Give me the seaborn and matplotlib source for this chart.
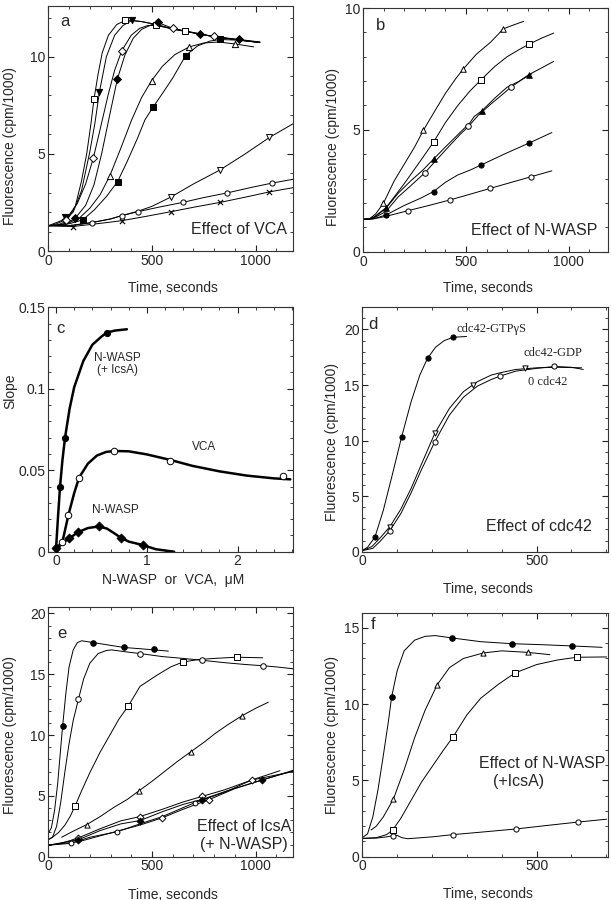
import matplotlib
matplotlib.use("Agg")
import matplotlib.pyplot as plt
import seaborn as sns
from matplotlib.ticker import MultipleLocator, FuncFormatter

# ---------------- panel a : effect of VCA ----------------
a_sq_t = [0, 40, 70, 100, 130, 160, 185, 205, 220, 240, 260, 290, 330, 370, 400, 450, 520, 600, 700, 800, 900, 1020]
a_sq_f = [1.3, 1.32, 1.45, 1.75, 2.3, 3.6, 5.0, 6.5, 7.8, 9.1, 10.2, 11.1, 11.65, 11.85, 11.87, 11.8, 11.65, 11.42, 11.22, 11.02, 10.88, 10.72]
a_ftri_t = [0, 40, 80, 120, 160, 200, 225, 246, 280, 320, 360, 402, 450, 520, 600, 700, 800, 900, 1020]
a_ftri_f = [1.3, 1.4, 1.6, 2.0, 3.1, 5.1, 6.6, 8.16, 10.0, 11.1, 11.6, 11.85, 11.8, 11.65, 11.42, 11.22, 11.02, 10.88, 10.72]
a_dia_t = [0, 60, 100, 140, 180, 217, 250, 290, 320, 354, 400, 440, 480, 520, 600, 700, 800, 900, 1020]
a_dia_f = [1.3, 1.55, 1.85, 2.45, 3.45, 4.78, 6.27, 8.1, 9.3, 10.3, 11.1, 11.45, 11.6, 11.6, 11.42, 11.22, 11.02, 10.88, 10.72]
a_fdia_t = [0, 60, 100, 129, 180, 220, 257, 300, 333, 370, 410, 450, 500, 530, 600, 731, 800, 921, 1020]
a_fdia_f = [1.3, 1.35, 1.5, 1.68, 2.35, 3.4, 5.0, 7.2, 8.85, 10.1, 10.95, 11.4, 11.65, 11.75, 11.45, 11.17, 11.03, 10.88, 10.75]
a_tri_t = [0, 80, 150, 200, 250, 297, 350, 402, 450, 498, 550, 610, 680, 750, 820, 900, 990]
a_tri_f = [1.3, 1.35, 1.7, 2.2, 2.9, 3.88, 5.3, 6.75, 7.9, 8.76, 9.5, 10.1, 10.5, 10.7, 10.75, 10.65, 10.5]
a_fsq_t = [0, 100, 166, 220, 280, 334, 380, 430, 466, 505, 550, 600, 662, 720, 780, 828, 900, 960, 1020]
a_fsq_f = [1.3, 1.4, 1.6, 2.1, 2.8, 3.57, 4.6, 5.8, 6.75, 7.4, 8.1, 8.9, 10.05, 10.55, 10.8, 10.88, 10.85, 10.8, 10.75]
a_dtri_t = [0, 100, 200, 300, 354, 434, 500, 590, 700, 828, 950, 1066, 1181]
a_dtri_f = [1.3, 1.3, 1.45, 1.65, 1.82, 2.05, 2.3, 2.77, 3.45, 4.17, 5.0, 5.84, 6.55]
a_cir_t = [0, 100, 212, 300, 354, 434, 540, 648, 750, 863, 970, 1077, 1181]
a_cir_f = [1.3, 1.3, 1.46, 1.65, 1.82, 2.03, 2.27, 2.5, 2.75, 2.99, 3.25, 3.49, 3.69]
a_x_t = [0, 60, 117, 200, 280, 354, 470, 590, 710, 828, 950, 1066, 1181]
a_x_f = [1.3, 1.28, 1.26, 1.36, 1.46, 1.56, 1.78, 2.02, 2.27, 2.5, 2.77, 3.04, 3.26]

a_sq_mt, a_sq_mf = [220, 370, 520, 660], [7.8, 11.87, 11.65, 11.3]
a_ftri_mt, a_ftri_mf = [80, 246, 402], [1.73, 8.16, 11.87]
a_dia_mt, a_dia_mf = [85, 217, 354, 600, 800], [1.6, 4.78, 10.3, 11.45, 11.05]
a_fdia_mt, a_fdia_mf = [129, 333, 530, 731, 921], [1.68, 8.85, 11.78, 11.17, 10.88]
a_tri_mt, a_tri_mf = [297, 498, 680, 900], [3.88, 8.76, 10.5, 10.65]
a_fsq_mt, a_fsq_mf = [166, 334, 505, 662, 828], [1.6, 3.57, 7.4, 10.05, 10.88]
a_dtri_mt, a_dtri_mf = [590, 828, 1066], [2.77, 4.17, 5.84]
a_cir_mt, a_cir_mf = [212, 354, 434, 648, 863, 1077], [1.46, 1.82, 2.03, 2.5, 2.99, 3.49]
a_x_mt, a_x_mf = [117, 354, 590, 828, 1066], [1.26, 1.56, 2.02, 2.5, 3.04]

# ---------------- panel b : effect of N-WASP ----------------
b_tri_t = [0, 30, 60, 98, 150, 200, 250, 293, 350, 400, 450, 485, 550, 620, 660, 680, 730, 780]
b_tri_f = [1.33, 1.35, 1.55, 1.99, 2.9, 3.6, 4.3, 4.99, 5.8, 6.5, 7.1, 7.48, 8.1, 8.6, 8.95, 9.14, 9.3, 9.45]
b_sq_t = [0, 40, 110, 200, 280, 342, 400, 460, 520, 574, 640, 700, 760, 808, 870, 927]
b_sq_f = [1.33, 1.35, 1.8, 2.8, 3.75, 4.5, 5.3, 6.0, 6.6, 7.06, 7.6, 8.0, 8.3, 8.52, 8.77, 8.97]
b_ftri_t = [0, 30, 60, 110, 170, 230, 290, 342, 400, 460, 520, 540, 577, 640, 700, 760, 805, 870, 927]
b_ftri_f = [1.33, 1.35, 1.45, 1.78, 2.4, 2.9, 3.35, 3.8, 4.3, 4.8, 5.3, 5.55, 5.78, 6.3, 6.75, 7.0, 7.26, 7.55, 7.81]
b_oc_t = [0, 30, 60, 110, 170, 230, 301, 360, 420, 470, 512, 560, 620, 670, 720, 770, 820]
b_oc_f = [1.33, 1.35, 1.42, 1.65, 2.25, 2.7, 3.25, 3.8, 4.35, 4.8, 5.14, 5.6, 6.05, 6.4, 6.76, 7.05, 7.3]
b_fc_t = [0, 50, 111, 200, 280, 342, 400, 460, 520, 574, 690, 805, 918]
b_fc_f = [1.33, 1.35, 1.51, 1.9, 2.2, 2.47, 2.85, 3.15, 3.35, 3.56, 4.02, 4.45, 4.89]
b_c_t = [0, 50, 110, 220, 320, 420, 520, 618, 718, 818, 918]
b_c_f = [1.33, 1.35, 1.45, 1.69, 1.9, 2.12, 2.36, 2.6, 2.84, 3.08, 3.32]

b_tri_mt, b_tri_mf = [98, 293, 485, 680], [1.99, 4.99, 7.48, 9.14]
b_sq_mt, b_sq_mf = [342, 574, 808], [4.5, 7.06, 8.52]
b_ftri_mt, b_ftri_mf = [110, 342, 577, 805], [1.78, 3.8, 5.78, 7.26]
b_oc_mt, b_oc_mf = [301, 512, 720], [3.25, 5.14, 6.76]
b_fc_mt, b_fc_mf = [111, 342, 574, 805], [1.51, 2.47, 3.56, 4.45]
b_c_mt, b_c_mf = [220, 420, 618, 818], [1.69, 2.12, 2.6, 3.08]

# ---------------- panel c : slope vs concentration ----------------
c_icsa_x = [0, 0.02, 0.044, 0.07, 0.099, 0.15, 0.2, 0.3, 0.4, 0.5, 0.56, 0.65, 0.78]
c_icsa_y = [0.002, 0.02, 0.040, 0.056, 0.070, 0.088, 0.101, 0.117, 0.127, 0.132, 0.1345, 0.1357, 0.1365]
c_vca_x = [0, 0.07, 0.136, 0.2, 0.253, 0.35, 0.45, 0.55, 0.64, 0.8, 1.0, 1.26, 1.5, 1.8, 2.1, 2.4, 2.58]
c_vca_y = [0.002, 0.006, 0.0225, 0.036, 0.0454, 0.054, 0.059, 0.0612, 0.0618, 0.0616, 0.0597, 0.0563, 0.0527, 0.0493, 0.0467, 0.0450, 0.0444]
c_nw_x = [0, 0.05, 0.1, 0.147, 0.239, 0.35, 0.47, 0.56, 0.65, 0.712, 0.8, 0.954, 1.1, 1.3]
c_nw_y = [0.002, 0.004, 0.0065, 0.0082, 0.0119, 0.0145, 0.0155, 0.0142, 0.011, 0.0086, 0.0062, 0.0041, 0.0015, 0.0]

c_icsa_mx, c_icsa_my = [0, 0.044, 0.099, 0.56], [0.002, 0.040, 0.070, 0.1345]
c_vca_mx, c_vca_my = [0.07, 0.136, 0.253, 0.64, 1.26, 2.495], [0.006, 0.0225, 0.0454, 0.0618, 0.0557, 0.0465]
c_nw_mx, c_nw_my = [0, 0.147, 0.239, 0.47, 0.712, 0.954], [0.002, 0.0082, 0.0119, 0.0155, 0.0086, 0.0041]

# ---------------- panel d : effect of cdc42 ----------------
d_gtp_t = [0, 15, 36, 60, 85, 113, 140, 165, 187, 210, 235, 261, 299]
d_gtp_f = [0.1, 0.4, 1.3, 3.7, 6.8, 10.36, 13.5, 15.9, 17.4, 18.4, 19.0, 19.3, 19.37]
d_gdp_t = [0, 27, 50, 79, 110, 140, 170, 208, 250, 290, 330, 370, 395, 440, 500, 560, 629]
d_gdp_f = [0.1, 0.45, 1.2, 2.25, 3.8, 5.7, 7.9, 10.66, 12.9, 14.4, 15.3, 15.9, 16.1, 16.4, 16.55, 16.6, 16.55]
d_zero_t = [0, 30, 50, 79, 110, 140, 170, 208, 250, 290, 330, 370, 395, 440, 500, 551, 600, 634]
d_zero_f = [0.1, 0.3, 0.9, 1.9, 3.4, 5.3, 7.4, 9.9, 12.3, 13.9, 14.9, 15.5, 15.8, 16.25, 16.5, 16.67, 16.6, 16.4]

d_gtp_mt, d_gtp_mf = [36, 113, 187, 261], [1.3, 10.36, 17.4, 19.3]
d_gdp_mt, d_gdp_mf = [79, 208, 318, 467], [2.25, 10.66, 15.0, 16.5]
d_zero_mt, d_zero_mf = [79, 208, 395, 551], [1.9, 9.9, 15.8, 16.67]

# ---------------- panel e : effect of IcsA ----------------
e_fc_t = [0, 15, 30, 45, 55, 69, 85, 100, 120, 140, 161, 217, 290, 365, 440, 511, 579]
e_fc_f = [1.9, 2.4, 3.8, 6.0, 8.0, 10.77, 13.5, 15.6, 17.0, 17.6, 17.75, 17.6, 17.4, 17.2, 17.1, 17.0, 16.9]
e_c_t = [0, 20, 40, 60, 80, 100, 120, 145, 170, 200, 240, 280, 305, 370, 442, 550, 650, 740, 850, 950, 1034, 1100, 1180]
e_c_f = [1.4, 1.6, 2.5, 4.5, 7.0, 9.3, 11.2, 12.93, 14.6, 15.9, 16.7, 16.95, 17.0, 16.85, 16.7, 16.45, 16.3, 16.15, 15.95, 15.8, 15.7, 15.6, 15.45]
e_sq_t = [0, 20, 50, 80, 105, 129, 160, 200, 250, 300, 340, 386, 442, 522, 590, 648, 720, 800, 908, 1034]
e_sq_f = [1.4, 1.6, 2.0, 2.6, 3.3, 4.17, 5.4, 6.9, 8.6, 10.1, 11.3, 12.4, 14.0, 14.9, 15.6, 16.0, 16.2, 16.3, 16.4, 16.35]
e_tri_t = [64, 120, 185, 250, 320, 380, 439, 500, 560, 620, 688, 750, 810, 870, 935, 1000, 1061]
e_tri_f = [1.6, 2.1, 2.64, 3.3, 4.1, 4.7, 5.44, 6.2, 7.0, 7.8, 8.64, 9.4, 10.2, 10.9, 11.6, 12.2, 12.7]
e_g1_t = [0, 50, 100, 145, 250, 350, 442, 550, 650, 750, 850, 980, 1117]
e_g1_f = [0.95, 1.05, 1.3, 1.55, 2.3, 2.95, 3.3, 3.9, 4.5, 5.0, 5.5, 6.3, 7.07]
e_g2_t = [0, 145, 250, 350, 442, 550, 650, 750, 850, 1028, 1180]
e_g2_f = [0.95, 1.4, 2.15, 2.7, 2.97, 3.7, 4.3, 4.75, 5.35, 6.3, 7.05]
e_g3_t = [0, 108, 200, 333, 442, 550, 707, 850, 980, 1180]
e_g3_f = [0.95, 1.1, 1.6, 2.06, 2.7, 3.3, 4.45, 5.3, 6.3, 7.0]
e_g4_t = [0, 150, 300, 442, 550, 650, 776, 900, 1050, 1180]
e_g4_f = [0.95, 1.25, 1.95, 2.6, 3.2, 3.9, 4.7, 5.6, 6.4, 7.1]

e_fc_mt, e_fc_mf = [69, 217, 365, 511], [10.77, 17.6, 17.2, 17.05]
e_c_mt, e_c_mf = [145, 442, 740, 1034], [12.93, 16.7, 16.15, 15.7]
e_sq_mt, e_sq_mf = [129, 386, 648, 908], [4.17, 12.4, 16.0, 16.4]
e_tri_mt, e_tri_mf = [185, 439, 688, 935], [2.64, 5.44, 8.64, 11.6]
e_g1_mt, e_g1_mf = [145, 442, 740, 980], [1.55, 3.3, 4.95, 6.3]
e_g2_mt, e_g2_mf = [145, 442, 740, 1028], [1.4, 2.97, 4.7, 6.3]
e_g3_mt, e_g3_mf = [108, 333, 707], [1.1, 2.06, 4.45]
e_g4_mt, e_g4_mf = [550, 776], [3.2, 4.7]

# ---------------- panel f : effect of N-WASP (+IcsA) ----------------
f_fc_t = [0, 15, 30, 45, 60, 75, 84, 100, 120, 150, 180, 209, 256, 340, 428, 520, 602, 688]
f_fc_f = [1.25, 1.5, 2.6, 4.4, 6.6, 8.9, 10.47, 12.2, 13.5, 14.2, 14.45, 14.5, 14.35, 14.1, 13.97, 13.9, 13.82, 13.73]
f_tri_t = [25, 40, 60, 89, 120, 150, 180, 215, 250, 290, 347, 400, 474, 538]
f_tri_f = [1.75, 2.0, 2.6, 3.77, 5.7, 7.8, 9.6, 11.28, 12.4, 13.0, 13.36, 13.5, 13.4, 13.25]
f_sq_t = [0, 40, 70, 87, 110, 140, 170, 200, 230, 261, 300, 340, 390, 438, 500, 560, 615, 701]
f_sq_f = [1.2, 1.25, 1.45, 1.75, 2.5, 3.7, 4.9, 5.9, 6.9, 7.88, 9.3, 10.4, 11.3, 12.05, 12.6, 12.9, 13.08, 13.1]
f_c_t = [0, 40, 70, 87, 100, 113, 130, 200, 261, 350, 441, 530, 618, 701]
f_c_f = [1.2, 1.22, 1.3, 1.38, 1.4, 1.25, 1.18, 1.3, 1.45, 1.63, 1.82, 2.05, 2.27, 2.46]

f_fc_mt, f_fc_mf = [84, 256, 428, 602], [10.47, 14.35, 13.97, 13.82]
f_tri_mt, f_tri_mf = [89, 215, 347, 474], [3.77, 11.28, 13.36, 13.4]
f_sq_mt, f_sq_mf = [87, 261, 438, 615], [1.75, 7.88, 12.05, 13.08]
f_c_mt, f_c_mf = [87, 261, 441, 618], [1.35, 1.45, 1.82, 2.27]

sns.set_style("ticks")
plt.rcParams["font.family"] = ["Liberation Sans", "DejaVu Sans"]
plt.rcParams["axes.linewidth"] = 0.8

fig = plt.figure(figsize=(6.11, 9), dpi=100)


def trace(ax, t, f, lw=0.7):
    sns.lineplot(x=t, y=f, ax=ax, color="black", lw=lw, sort=False,
                 estimator=None, legend=False)


def marks(ax, t, f, marker, filled, size=18):
    if marker == "x":
        sns.scatterplot(x=t, y=f, ax=ax, marker="x", s=size, color="black",
                        linewidth=0.8, zorder=4, legend=False)
    else:
        sns.scatterplot(x=t, y=f, ax=ax, marker=marker, s=size,
                        color="black" if filled else "white",
                        edgecolor="black", linewidth=0.7, zorder=4, legend=False)


def frame(ax, xlim, ylim, xmaj, xmin, ymaj, ymin, xlabel, ylabel, ylx, yly, xly):
    ax.set_xlim(xlim)
    ax.set_ylim(ylim)
    ax.xaxis.set_major_locator(MultipleLocator(xmaj))
    ax.xaxis.set_minor_locator(MultipleLocator(xmin))
    ax.yaxis.set_major_locator(MultipleLocator(ymaj))
    ax.yaxis.set_minor_locator(MultipleLocator(ymin))
    fmt = FuncFormatter(lambda v, p: "{:g}".format(round(v, 4)))
    ax.xaxis.set_major_formatter(fmt)
    ax.yaxis.set_major_formatter(fmt)
    ax.tick_params(which="both", direction="in", top=True, right=True,
                   labelsize=10, pad=2, color="#222222")
    ax.tick_params(which="major", length=4, width=0.8)
    ax.tick_params(which="minor", length=2.2, width=0.6)
    for s in ax.spines.values():
        s.set_color("#333333")
    ax.set_xlabel(xlabel, fontsize=10)
    ax.set_ylabel(ylabel, fontsize=10)
    # label coords: right edge of the y label, top edge of the x label
    ax.xaxis.set_label_coords(0.51, xly)
    ax.yaxis.set_label_coords(ylx, yly)


fl = "Fluorescence (cpm/1000)"
ts = "Time, seconds"

# panel a
ax = fig.add_axes([0.0791, 0.7211, 0.4005, 0.2722])
for t, f in [(a_sq_t, a_sq_f), (a_ftri_t, a_ftri_f), (a_dia_t, a_dia_f), (a_fdia_t, a_fdia_f),
             (a_tri_t, a_tri_f), (a_fsq_t, a_fsq_f), (a_dtri_t, a_dtri_f), (a_cir_t, a_cir_f),
             (a_x_t, a_x_f)]:
    trace(ax, t, f)
marks(ax, a_sq_mt, a_sq_mf, "s", False, 22)
marks(ax, a_ftri_mt, a_ftri_mf, "v", True, 20)
marks(ax, a_dia_mt, a_dia_mf, "D", False, 16)
marks(ax, a_fdia_mt, a_fdia_mf, "D", True, 16)
marks(ax, a_tri_mt, a_tri_mf, "^", False, 20)
marks(ax, a_fsq_mt, a_fsq_mf, "s", True, 16)
marks(ax, a_dtri_mt, a_dtri_mf, "v", False, 18)
marks(ax, a_cir_mt, a_cir_mf, "o", False, 14)
marks(ax, a_x_mt, a_x_mf, "x", True, 14)
frame(ax, (0, 1180), (0, 12.6), 500, 100, 5, 1, ts, fl, -0.128, 0.43, -0.122)
ax.text(0.068, 0.936, "a", transform=ax.transAxes, fontsize=12, ha="center", va="center")
ax.text(0.975, 0.086, "Effect of VCA", transform=ax.transAxes, fontsize=11.5, ha="right", va="center")

# panel b
ax = fig.add_axes([0.5946, 0.7203, 0.4, 0.2708])
for t, f in [(b_tri_t, b_tri_f), (b_sq_t, b_sq_f), (b_ftri_t, b_ftri_f), (b_oc_t, b_oc_f),
             (b_fc_t, b_fc_f), (b_c_t, b_c_f)]:
    trace(ax, t, f)
marks(ax, b_tri_mt, b_tri_mf, "^", False, 16)
marks(ax, b_sq_mt, b_sq_mf, "s", False, 20)
marks(ax, b_ftri_mt, b_ftri_mf, "^", True, 16)
marks(ax, b_oc_mt, b_oc_mf, "o", False, 16)
marks(ax, b_fc_mt, b_fc_mf, "o", True, 14)
marks(ax, b_c_mt, b_c_mf, "o", False, 14)
frame(ax, (0, 1190), (0, 10), 500, 100, 5, 1, ts, fl, -0.095, 0.43, -0.121)
ax.text(0.072, 0.928, "b", transform=ax.transAxes, fontsize=12, ha="center", va="center")
ax.text(0.959, 0.089, "Effect of N-WASP", transform=ax.transAxes, fontsize=11.5, ha="right", va="center")

# panel c
ax = fig.add_axes([0.0791, 0.387, 0.4005, 0.2716])
trace(ax, c_icsa_x, c_icsa_y, 1.8)
trace(ax, c_vca_x, c_vca_y, 1.8)
trace(ax, c_nw_x, c_nw_y, 1.8)
marks(ax, c_icsa_mx, c_icsa_my, "o", True, 20)
marks(ax, c_vca_mx, c_vca_my, "o", False, 22)
marks(ax, c_nw_mx, c_nw_my, "D", True, 20)
frame(ax, (-0.085, 2.61), (0, 0.15), 1, 0.2, 0.05, 0.01, "N-WASP  or  VCA,  \u03bcM", "Slope",
      -0.128, 0.655, -0.089)
ax.text(0.048, 0.915, "c", transform=ax.transAxes, fontsize=12, ha="center", va="center")
ax.text(0.67, 0.119, "N-WASP", fontsize=8.5, ha="center", va="center")
ax.text(0.68, 0.1115, "(+ IcsA)", fontsize=8.5, ha="center", va="center")
ax.text(1.63, 0.064, "VCA", fontsize=8.5, ha="center", va="center")
ax.text(0.65, 0.0256, "N-WASP", fontsize=8.5, ha="center", va="center")

# panel d
ax = fig.add_axes([0.593, 0.387, 0.4016, 0.2716])
trace(ax, d_gtp_t, d_gtp_f)
trace(ax, d_gdp_t, d_gdp_f)
trace(ax, d_zero_t, d_zero_f)
marks(ax, d_gtp_mt, d_gtp_mf, "o", True, 14)
marks(ax, d_gdp_mt, d_gdp_mf, "v", False, 14)
marks(ax, d_zero_mt, d_zero_mf, "o", False, 14)
frame(ax, (0, 704), (0, 22), 500, 100, 5, 1, ts, fl, -0.095, 0.45, -0.122)
ax.text(0.045, 0.928, "d", transform=ax.transAxes, fontsize=12, ha="center", va="center")
serif = ["Liberation Serif", "DejaVu Serif"]
ax.text(271, 20.06, "cdc42-GTP\u03b3S", family=serif, fontsize=9, ha="left", va="center")
ax.text(461, 17.9, "cdc42-GDP", family=serif, fontsize=9, ha="left", va="center")
ax.text(475, 15.3, "0 cdc42", family=serif, fontsize=9, ha="left", va="center")
ax.text(0.937, 0.102, "Effect of cdc42", transform=ax.transAxes, fontsize=11.5, ha="right", va="center")

# panel e
ax = fig.add_axes([0.0791, 0.0481, 0.4005, 0.2771])
for t, f in [(e_fc_t, e_fc_f), (e_c_t, e_c_f), (e_sq_t, e_sq_f), (e_tri_t, e_tri_f),
             (e_g1_t, e_g1_f), (e_g2_t, e_g2_f), (e_g3_t, e_g3_f), (e_g4_t, e_g4_f)]:
    trace(ax, t, f)
marks(ax, e_fc_mt, e_fc_mf, "o", True, 16)
marks(ax, e_c_mt, e_c_mf, "o", False, 16)
marks(ax, e_sq_mt, e_sq_mf, "s", False, 18)
marks(ax, e_tri_mt, e_tri_mf, "^", False, 14)
marks(ax, e_g1_mt, e_g1_mf, "D", False, 12)
marks(ax, e_g2_mt, e_g2_mf, "D", True, 12)
marks(ax, e_g3_mt, e_g3_mf, "o", False, 12)
marks(ax, e_g4_mt, e_g4_mf, "D", False, 12)
frame(ax, (0, 1180), (0, 20.5), 500, 100, 5, 1, ts, fl, -0.128, 0.488, -0.1235)
ax.text(0.055, 0.896, "e", transform=ax.transAxes, fontsize=12, ha="center", va="center")
ax.text(0.80, 0.12, "Effect of IcsA", transform=ax.transAxes, fontsize=11.5, ha="center", va="center")
ax.text(0.80, 0.047, "(+ N-WASP)", transform=ax.transAxes, fontsize=11.5, ha="center", va="center")

# panel f
ax = fig.add_axes([0.593, 0.0481, 0.4016, 0.2711])
for t, f in [(f_fc_t, f_fc_f), (f_tri_t, f_tri_f), (f_sq_t, f_sq_f), (f_c_t, f_c_f)]:
    trace(ax, t, f)
marks(ax, f_fc_mt, f_fc_mf, "o", True, 16)
marks(ax, f_tri_mt, f_tri_mf, "^", False, 14)
marks(ax, f_sq_mt, f_sq_mf, "s", False, 18)
marks(ax, f_c_mt, f_c_mf, "o", False, 14)
frame(ax, (0, 704), (0, 16), 500, 100, 5, 1, ts, fl, -0.095, 0.5, -0.126)
ax.text(0.045, 0.95, "f", transform=ax.transAxes, fontsize=12, ha="center", va="center")
ax.text(0.731, 0.383, "Effect of N-WASP", transform=ax.transAxes, fontsize=11.5, ha="center", va="center")
ax.text(0.636, 0.307, "(+IcsA)", transform=ax.transAxes, fontsize=11.5, ha="center", va="center")

fig.savefig("out.png", dpi=100, facecolor="white")
